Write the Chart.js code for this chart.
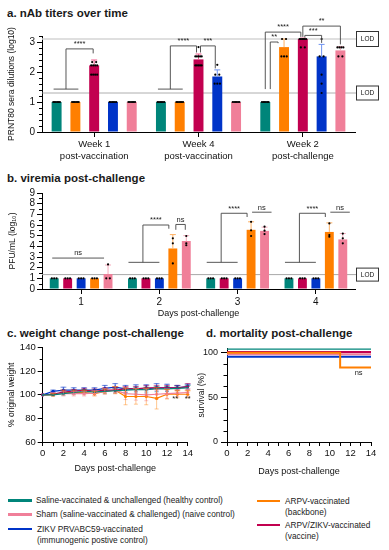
<!DOCTYPE html>
<html>
<head>
<meta charset="utf-8">
<script src="https://cdn.jsdelivr.net/npm/chart.js@4.4.0/dist/chart.umd.min.js"></script>
<style>
  body { margin: 0; background: #fff; font-family: "Liberation Sans", Arial, sans-serif; color: #1a1a1a; }
  #wrap { position: relative; width: 389px; height: 550px; overflow: hidden; }
  canvas { position: absolute; }
  .ttl { position: absolute; font-weight: bold; font-size: 11.5px; line-height: 14px; white-space: nowrap; }
  .lg { position: absolute; font-size: 8.3px; line-height: 11px; white-space: nowrap; }
  .lg i { position: absolute; top: 4px; height: 2.6px; }
</style>
</head>
<body>
<div id="wrap">
  <div class="ttl" style="left:7px;top:6px">a. nAb titers over time</div>
  <div class="ttl" style="left:7px;top:171px">b. viremia post-challenge</div>
  <div class="ttl" style="left:7px;top:326px">c. weight change post-challenge</div>
  <div class="ttl" style="left:206px;top:326px">d. mortality post-challenge</div>

  <canvas id="chartA" width="389" height="150" style="left:0;top:18px"></canvas>
  <canvas id="chartB" width="389" height="135" style="left:0;top:185px"></canvas>
  <canvas id="chartC" width="195" height="135" style="left:0;top:340px"></canvas>
  <canvas id="chartD" width="199" height="138" style="left:190px;top:340px"></canvas>

  <div class="lg" style="left:36px;top:495px"><i style="left:-28px;width:24px;background:#00857a"></i>Saline-vaccinated &amp; unchallenged (healthy control)</div>
  <div class="lg" style="left:36px;top:509px"><i style="left:-28px;width:24px;background:#f07f99"></i>Sham (saline-vaccinated &amp; challenged) (naive control)</div>
  <div class="lg" style="left:37px;top:523.5px"><i style="left:-29px;width:24px;background:#0034c8"></i>ZIKV PRVABC59-vaccinated<br>(immunogenic postive control)</div>
  <div class="lg" style="left:285px;top:495.5px"><i style="left:-28px;width:23px;background:#ff7f00"></i>ARPV-vaccinated<br>(backbone)</div>
  <div class="lg" style="left:285px;top:519.5px"><i style="left:-28px;width:23px;background:#c2004f"></i>ARPV/ZIKV-vaccinated<br>(vaccine)</div>
</div>

<script>
const TEAL = '#00857a', ORANGE = '#ff7f00', CRIMSON = '#c2004f', BLUE = '#0034c8', PINK = '#f07f99';
const ERR = { teal: '#5fb3ab', orange: '#ffb061', crimson: '#ee5a8c', blue: '#6f93f0', pink: '#f6aabb' };

// ---- a. nAb titers ----
const aCats = [['Week 1', 'post-vaccination'], ['Week 4', 'post-vaccination'], ['Week 2', 'post-challenge']];
const aSaline = [1, 1, 1];
const aArpv = [1, 1, 2.83];
const aVaccine = [2.22, 2.42, 3.1];
const aZikv = [1, 1.85, 2.52];
const aSham = [1, 1, 2.72];
const aArpvSD = [0, 0, 0.27];
const aVaccineSD = [0.18, 0.18, 0.03];
const aZikvSD = [0, 0.22, 0.4];
const aShamSD = [0, 0, 0.13];
const six = [1, 1, 1, 1, 1, 1];
const aSalineDots = [six, six, six];
const aArpvDots = [six, six, [3.1, 3.1, 2.52, 2.52, 2.52]];
const aVaccineDots = [
  [2.33, 2.33, 2.22, 2.22, 2.22, 2.22, 1.91, 1.91, 1.91, 1.91],
  [2.83, 2.52, 2.52, 2.52, 2.52, 2.52, 2.22, 2.22, 2.22, 2.22, 2.22],
  [3.1, 3.1, 3.1, 3.1, 3.1, 3.1, 2.82, 2.82]
];
const aZikvDots = [six, [2.24, 1.91, 1.91, 1.61, 1.61, 1.61], [3.1, 2.52, 2.52, 1.91, 1.61, 1.3]];
const aShamDots = [six, six, [2.82, 2.82, 2.82, 2.82, 2.52, 2.52]];

// ---- b. viremia ----
const bCats = ['1', '2', '3', '4'];
const bSaline = [1, 1, 1, 1];
const bVaccine = [1, 1, 1, 1];
const bZikv = [1, 1, 1, 1];
const bArpv = [1, 3.8, 5.55, 5.35];
const bSham = [1.4, 4.5, 5.45, 4.65];
const bArpvSD = [0, 1.3, 0.75, 0.85];
const bShamSD = [0.85, 0.5, 0.35, 0.55];
const three = [1, 1, 1];
const bCtrlDots = [three, three, three, three];
const bArpvDots = [three, [4.75, 4.28, 2.4], [6.3, 5.5, 4.97], [6.15, 5.06, 4.9]];
const bShamDots = [[2.3, 1, 1], [4.97, 4.28, 4.1], [5.84, 5.47, 5.15], [5.2, 4.75, 4.28]];

// ---- c. weight ----
const cDays = ['0', '1', '2', '3', '4', '5', '6', '7', '8', '9', '10', '11', '12', '13', '14'];
const cSaline = [100, 100, 101, 102, 103, 102.5, 103, 103.5, 104, 104.5, 104.5, 105, 105, 105.5, 106];
const cSham = [100, 100.5, 101, 101, 101, 101.5, 103, 104, 101, 100.5, 100, 100.5, 101, 101.5, 102];
const cZikv = [100, 103, 104, 104, 104, 104, 105.5, 106.5, 105, 105, 105, 106, 106, 106, 107];
const cArpv = [100, 100, 102, 102, 102, 101, 103, 104, 98.6, 98.6, 98.6, 97, 100.5, 100.5, 100.5];
const cVaccine = [100, 100.5, 102.5, 103, 104, 103, 104, 104, 105, 105, 106, 106, 106, 106, 107];
const cSalineSD = [0, 1, 1.5, 1.5, 1.5, 1.5, 2, 2, 2, 2, 2, 2, 2, 2, 2];
const cShamSD = [0, 1.5, 2, 2, 2, 2, 2.5, 3, 5, 5, 5, 4, 4, 3, 3];
const cZikvSD = [0, 1, 2.5, 2, 2, 2, 2.5, 3, 3, 3.5, 3.5, 3.5, 3, 2, 2];
const cArpvSD = [0, 1, 2, 2, 2, 2, 2, 3, 7, 6.5, 7, 9, 4, 3, 3];
const cVaccineSD = [0, 1, 1.5, 1.5, 1.5, 2, 2, 2, 2, 2, 2, 2, 2, 2, 2.5];

// ---- d. survival ----
const dFlatDays = [0, 14];
const dSaline = [104.5, 104.5];
const dVaccine = [101, 101];
const dSham = [98.5, 98.5];
const dZikv = [95.5, 95.5];
const dArpvDays = [0, 11, 14];
const dArpv = [100, 83.5, 83.5];
const dTicks = [0, 12.5, 25, 37.5, 50, 62.5, 75, 87.5, 100];

const FONT = "'Liberation Sans', Arial, sans-serif";
Chart.defaults.font.family = FONT;
Chart.defaults.color = '#111';

function xAt(chart, ds, cat, dx) {
  const lo = Math.floor(ds), hi = Math.ceil(ds), f = ds - lo;
  const a = chart.getDatasetMeta(lo).data[cat].x;
  const b = chart.getDatasetMeta(hi).data[cat].x;
  return a + (b - a) * f + dx;
}

function overlay(spec) {
  return {
    id: 'overlay',
    beforeDatasetsDraw(chart) {
      const ctx = chart.ctx, y = chart.scales.y, area = chart.chartArea;
      ctx.save();
      (spec.lod || []).forEach(l => {
        const py = y.getPixelForValue(l.v);
        ctx.strokeStyle = l.c; ctx.lineWidth = l.w;
        ctx.beginPath(); ctx.moveTo(area.left, py); ctx.lineTo(area.right + 1, py); ctx.stroke();
        ctx.strokeStyle = '#333'; ctx.lineWidth = 1;
        ctx.fillStyle = '#fff';
        ctx.fillRect(area.right + 1, py - l.h / 2, 22, l.h);
        ctx.strokeRect(area.right + 1.5, py - l.h / 2, 22, l.h);
        ctx.fillStyle = '#111'; ctx.font = '6.5px ' + FONT;
        ctx.textAlign = 'center'; ctx.textBaseline = 'middle';
        ctx.fillText('LOD', area.right + 12.5, py + 0.5);
      });
      ctx.restore();
    },
    afterDatasetsDraw(chart) {
      const ctx = chart.ctx, y = chart.scales.y;
      ctx.save();
      // error bars and individual points
      chart.data.datasets.forEach((ds, di) => {
        const meta = chart.getDatasetMeta(di);
        meta.data.forEach((el, i) => {
          const sd = ds.sd ? ds.sd[i] : 0;
          if (sd) {
            const top = y.getPixelForValue(ds.data[i] + sd);
            ctx.strokeStyle = ds.errColor; ctx.lineWidth = 1;
            ctx.beginPath();
            ctx.moveTo(el.x, el.y); ctx.lineTo(el.x, top);
            ctx.moveTo(el.x - 3, top); ctx.lineTo(el.x + 3, top);
            ctx.stroke();
          }
          const vals = ds.dots ? ds.dots[i] : null;
          if (vals) {
            const groups = {};
            vals.forEach(v => { groups[v] = (groups[v] || 0) + 1; });
            const w = el.width * 0.8;
            ctx.fillStyle = '#000';
            Object.keys(groups).forEach(k => {
              const n = groups[k], py = y.getPixelForValue(+k);
              for (let j = 0; j < n; j++) {
                const px = n === 1 ? el.x : el.x - w / 2 + (j + 0.5) * w / n;
                ctx.beginPath(); ctx.arc(px, py, 1.1, 0, Math.PI * 2); ctx.fill();
              }
            });
          }
        });
      });
      // significance brackets
      ctx.strokeStyle = '#444'; ctx.lineWidth = 0.9;
      ctx.fillStyle = '#222'; ctx.font = '7.5px ' + FONT;
      ctx.textAlign = 'center'; ctx.textBaseline = 'bottom';
      (spec.brackets || []).forEach(b => {
        const p = b.pts.map(q => [xAt(chart, q[0], q[1], q[2]), y.getPixelForValue(q[3]), q[3]]);
        ctx.beginPath();
        p.forEach((q, k) => k ? ctx.lineTo(q[0], q[1]) : ctx.moveTo(q[0], q[1]));
        ctx.stroke();
        if (b.label) {
          let best = null;
          for (let k = 0; k < p.length - 1; k++) {
            if (p[k][2] === p[k + 1][2] && (!best || p[k][2] > best[2])) {
              best = [(p[k][0] + p[k + 1][0]) / 2, p[k][1], p[k][2]];
            }
          }
          ctx.fillText(b.label, best[0], best[1] - 1);
        }
      });
      (spec.notes || []).forEach(n => {
        ctx.fillText(n.t, chart.scales.x.getPixelForValue(n.x), y.getPixelForValue(n.y));
      });
      ctx.restore();
    }
  };
}

// short ticks for the unlabelled (minor) y positions
function minorTicks(len) {
  return {
    id: 'minorTicks',
    afterDraw(chart) {
      const ctx = chart.ctx, s = chart.scales.y, left = chart.chartArea.left;
      ctx.save();
      ctx.strokeStyle = '#000'; ctx.lineWidth = 1;
      s.ticks.forEach(t => {
        if (t.label !== '') return;
        const py = Math.round(s.getPixelForValue(t.value)) + 0.5;
        ctx.beginPath(); ctx.moveTo(left - len, py); ctx.lineTo(left, py); ctx.stroke();
      });
      ctx.restore();
    }
  };
}

function lineErrors() {
  return {
    id: 'lineErrors',
    beforeDatasetsDraw(chart) {
      const ctx = chart.ctx, y = chart.scales.y;
      ctx.save();
      chart.data.datasets.forEach((ds, di) => {
        if (!ds.sd) return;
        const meta = chart.getDatasetMeta(di);
        ctx.strokeStyle = ds.errColor; ctx.lineWidth = 0.8;
        meta.data.forEach((p, i) => {
          const s = ds.sd[i];
          if (!s) return;
          const t = y.getPixelForValue(ds.data[i] + s), b = y.getPixelForValue(ds.data[i] - s);
          ctx.beginPath();
          ctx.moveTo(p.x, t); ctx.lineTo(p.x, b);
          ctx.moveTo(p.x - 2, t); ctx.lineTo(p.x + 2, t);
          ctx.moveTo(p.x - 2, b); ctx.lineTo(p.x + 2, b);
          ctx.stroke();
        });
      });
      ctx.restore();
    }
  };
}

const axisLine = { color: '#000', width: 1 };
const tickGrid = { display: true, drawOnChartArea: false, color: '#000', tickColor: '#000', tickLength: 4 };
const majorOnly = c => (c.tick && c.tick.label !== '') ? '#000' : 'rgba(0,0,0,0)';
const yGrid = len => ({ display: true, drawOnChartArea: false, color: '#000', tickColor: majorOnly, tickLength: len });
const isInt = v => Math.abs(v - Math.round(v)) < 1e-6;

function barDs(label, data, color, sd, errColor, dots) {
  return { label, data, backgroundColor: color, sd, errColor, dots, borderWidth: 0 };
}

// ---------- chart A ----------
new Chart(document.getElementById('chartA'), {
  type: 'bar',
  data: {
    labels: aCats,
    datasets: [
      barDs('Saline', aSaline, TEAL, null, ERR.teal, aSalineDots),
      barDs('ARPV', aArpv, ORANGE, aArpvSD, ERR.orange, aArpvDots),
      barDs('ARPV/ZIKV', aVaccine, CRIMSON, aVaccineSD, ERR.crimson, aVaccineDots),
      barDs('ZIKV', aZikv, BLUE, aZikvSD, ERR.blue, aZikvDots),
      barDs('Sham', aSham, PINK, aShamSD, ERR.pink, aShamDots)
    ]
  },
  options: {
    responsive: false, animation: false, devicePixelRatio: 1,
    layout: { padding: { top: 18, right: 34, left: 0, bottom: 0 } },
    plugins: { legend: { display: false }, tooltip: { enabled: false } },
    datasets: { bar: { categoryPercentage: 0.9, barPercentage: 0.53 } },
    scales: {
      x: {
        border: axisLine,
        grid: { ...tickGrid, offset: false, tickLength: 5 },
        ticks: { font: { size: 9.5 }, padding: 2, maxRotation: 0, autoSkip: false },
        afterFit: s => { s.height = 36; }
      },
      y: {
        min: 0, max: 3.2,
        border: axisLine, grid: yGrid(5),
        ticks: { stepSize: 0.2, autoSkip: false, padding: 2, font: { size: 10 },
          callback: v => isInt(v) ? String(Math.round(v)) : '' },
        title: { display: true, text: 'PRNT80 sera dilutions (log10)', font: { size: 8.5 }, padding: { top: 7 } },
        afterFit: s => { s.width = 42; }
      }
    }
  },
  plugins: [minorTicks(3), overlay({
    lod: [{ v: 3.1, c: '#d4d4d4', w: 1.6, h: 15 }, { v: 1.3, c: '#9a9a9a', w: 0.8, h: 14 }],
    brackets: [
      { pts: [[0, 0, -3, 1.43], [1, 0, 3, 1.43]] },
      { pts: [[0.5, 0, 0, 1.43], [0.5, 0, 0, 2.77], [2, 0, -1, 2.77], [2, 0, -1, 2.62]], label: '****' },
      { pts: [[0, 1, -3, 1.43], [1, 1, 3, 1.43]] },
      { pts: [[0.5, 1, 0, 1.43], [0.5, 1, 0, 2.87], [2, 1, -2, 2.87], [2, 1, -2, 2.65]], label: '****' },
      { pts: [[2, 1, 2, 2.65], [2, 1, 2, 2.87], [3, 1, -2, 2.87], [3, 1, -2, 2.12]], label: '***' },
      { pts: [[0, 2, 0, 1.43], [0, 2, 0, 3.33], [2, 2, -2, 3.33], [2, 2, -2, 3.17]], label: '****' },
      { pts: [[0, 2, 5, 1.43], [0, 2, 5, 3.0], [1, 2, -6, 3.0], [1, 2, -6, 2.96]], label: '**' },
      { pts: [[2, 2, 2, 3.15], [2, 2, 2, 3.22], [3, 2, 0, 3.22], [3, 2, 0, 2.97]], label: '***' },
      { pts: [[2, 2, 0, 3.17], [2, 2, 0, 3.53], [4, 2, 0, 3.53], [4, 2, 0, 2.92]], label: '**' }
    ]
  })]
});

// ---------- chart B ----------
new Chart(document.getElementById('chartB'), {
  type: 'bar',
  data: {
    labels: bCats,
    datasets: [
      barDs('Saline', bSaline, TEAL, null, ERR.teal, bCtrlDots),
      barDs('ARPV/ZIKV', bVaccine, CRIMSON, null, ERR.crimson, bCtrlDots),
      barDs('ZIKV', bZikv, BLUE, null, ERR.blue, bCtrlDots),
      barDs('ARPV', bArpv, ORANGE, bArpvSD, ERR.orange, bArpvDots),
      barDs('Sham', bSham, PINK, bShamSD, ERR.pink, bShamDots)
    ]
  },
  options: {
    responsive: false, animation: false, devicePixelRatio: 1,
    layout: { padding: { top: 7.7, right: 34, left: 0, bottom: 0 } },
    plugins: { legend: { display: false }, tooltip: { enabled: false } },
    datasets: { bar: { categoryPercentage: 0.86, barPercentage: 0.66 } },
    scales: {
      x: {
        border: axisLine,
        grid: { ...tickGrid, offset: false, tickLength: 5 },
        ticks: { font: { size: 10 }, padding: 2, maxRotation: 0, autoSkip: false },
        title: { display: true, text: 'Days post-challenge', font: { size: 9 }, padding: { bottom: 1 } },
        afterFit: s => { s.height = 31; }
      },
      y: {
        min: 0, max: 9,
        border: axisLine, grid: yGrid(5),
        ticks: { stepSize: 0.5, autoSkip: false, padding: 2, font: { size: 10 },
          callback: v => isInt(v) ? String(Math.round(v)) : '' },
        title: { display: true, text: 'PFU/mL (log₁₀)', font: { size: 8.5 }, padding: { top: 8 } },
        afterFit: s => { s.width = 42; }
      }
    }
  },
  plugins: [minorTicks(3), overlay({
    lod: [{ v: 1.35, c: '#a8a8a8', w: 1, h: 13 }],
    brackets: [
      { pts: [[0, 0, -2, 2.9], [4, 0, -4, 2.9]], label: 'ns' },
      { pts: [[0, 1, -4, 2.5], [2, 1, 0, 2.5]] },
      { pts: [[1, 1, -3, 2.5], [1, 1, -3, 6.0], [3, 1, -4, 6.0], [3, 1, -4, 5.65]], label: '****' },
      { pts: [[3, 1, 3, 5.55], [3, 1, 3, 6.05], [4, 1, -1, 6.05], [4, 1, -1, 5.55]], label: 'ns' },
      { pts: [[0, 2, -4, 2.5], [2, 2, 0, 2.5]] },
      { pts: [[1, 2, -3, 2.5], [1, 2, -3, 7.1], [3, 2, -4, 7.1], [3, 2, -4, 6.75]], label: '****' },
      { pts: [[3, 2, 1, 7.2], [4, 2, 7, 7.2]], label: 'ns' },
      { pts: [[0, 3, -4, 2.5], [2, 3, 0, 2.5]] },
      { pts: [[1, 3, -3, 2.5], [1, 3, -3, 7.1], [3, 3, -4, 7.1], [3, 3, -4, 6.75]], label: '****' },
      { pts: [[3, 3, 1, 7.2], [4, 3, 7, 7.2]], label: 'ns' }
    ]
  })]
});

// ---------- chart C ----------
function lineDs(label, data, color, sd, errColor, pointStyle) {
  return { label, data, borderColor: color, backgroundColor: color, sd, errColor,
    borderWidth: 1.2, pointRadius: 1.6, pointStyle: pointStyle || 'circle', pointBorderWidth: 0 };
}
new Chart(document.getElementById('chartC'), {
  type: 'line',
  data: {
    labels: cDays,
    datasets: [
      lineDs('Saline', cSaline, TEAL, cSalineSD, 'rgba(0,133,122,0.5)', 'triangle'),
      lineDs('ARPV/ZIKV', cVaccine, CRIMSON, cVaccineSD, 'rgba(194,0,79,0.45)'),
      lineDs('ZIKV', cZikv, BLUE, cZikvSD, 'rgba(0,52,200,0.45)'),
      lineDs('Sham', cSham, PINK, cShamSD, 'rgba(240,127,153,0.6)'),
      lineDs('ARPV', cArpv, ORANGE, cArpvSD, 'rgba(255,127,0,0.55)')
    ]
  },
  options: {
    responsive: false, animation: false, devicePixelRatio: 1,
    layout: { padding: { top: 7, right: 7.3, left: 0, bottom: 0 } },
    plugins: { legend: { display: false }, tooltip: { enabled: false } },
    scales: {
      x: {
        border: axisLine, grid: { ...tickGrid, tickLength: 4 },
        ticks: { font: { size: 9.5 }, padding: 2, maxRotation: 0, autoSkip: false,
          callback: function (v, i) { return i % 2 === 0 ? this.getLabelForValue(v) : ''; } },
        title: { display: true, text: 'Days post-challenge', font: { size: 9 }, padding: { bottom: 1 } },
        afterFit: s => { s.height = 33; }
      },
      y: {
        min: 60, max: 140,
        border: axisLine, grid: yGrid(5),
        ticks: { stepSize: 10, autoSkip: false, padding: 2, font: { size: 9.5 },
          callback: v => v % 20 === 0 ? String(v) : '' },
        title: { display: true, text: '% original weight', font: { size: 8.5 }, padding: { top: 7 } },
        afterFit: s => { s.width = 42.7; }
      }
    }
  },
  plugins: [minorTicks(3), lineErrors(), overlay({ notes: [{ t: '**', x: 12.8, y: 93 }, { t: '**', x: 14, y: 93 }] })]
});

// ---------- chart D ----------
function toPoints(xs, ys) { return xs.map((x, i) => ({ x, y: ys[i] })); }
function survDs(label, xs, ys, color) {
  return { label, data: toPoints(xs, ys), borderColor: color, borderWidth: 2, pointRadius: 0, stepped: 'before' };
}
new Chart(document.getElementById('chartD'), {
  type: 'line',
  data: {
    datasets: [
      survDs('ARPV', dArpvDays, dArpv, ORANGE),
      survDs('Saline', dFlatDays, dSaline, TEAL),
      survDs('ARPV/ZIKV', dFlatDays, dVaccine, CRIMSON),
      survDs('Sham', dFlatDays, dSham, PINK),
      survDs('ZIKV', dFlatDays, dZikv, BLUE)
    ]
  },
  options: {
    responsive: false, animation: false, devicePixelRatio: 1,
    layout: { padding: { top: 7, right: 18, left: 0, bottom: 0 } },
    plugins: { legend: { display: false }, tooltip: { enabled: false } },
    scales: {
      x: {
        type: 'linear', min: 0, max: 14,
        border: axisLine, grid: { ...tickGrid, tickLength: 4 },
        ticks: { stepSize: 1, font: { size: 9.5 }, padding: 2, maxRotation: 0, autoSkip: false,
          callback: v => v % 2 === 0 ? String(v) : '' },
        title: { display: true, text: 'Days post-challenge', font: { size: 9 }, padding: { bottom: 1 } },
        afterFit: s => { s.height = 36; }
      },
      y: {
        type: 'linear', min: 0, max: 105,
        border: axisLine, grid: yGrid(6),
        ticks: { stepSize: 12.5, autoSkip: false, padding: 3, font: { size: 9 },
          callback: v => (v % 50 === 0) ? String(v) : '' },
        afterBuildTicks: s => { s.ticks = dTicks.map(v => ({ value: v })); },
        title: { display: true, text: 'survival (%)', font: { size: 8.5 }, padding: { top: 7 } },
        afterFit: s => { s.width = 37; }
      }
    }
  },
  plugins: [minorTicks(3.5), overlay({ notes: [{ t: 'ns', x: 12.8, y: 73 }] })]
});
</script>
</body>
</html>
